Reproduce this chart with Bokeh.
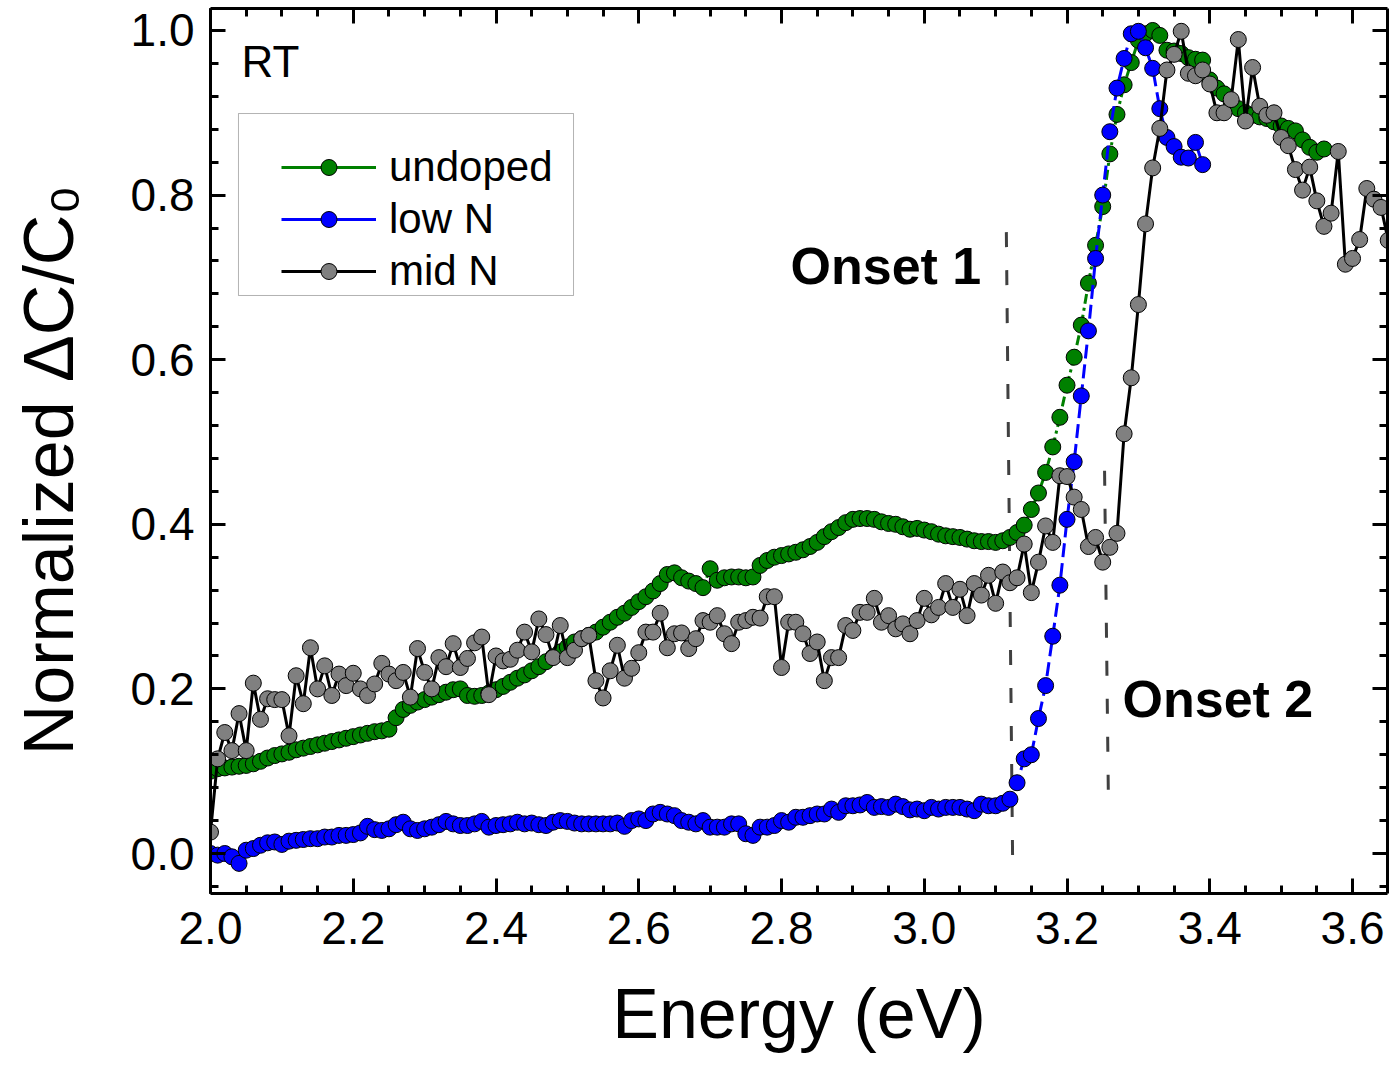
import numpy as np
from bokeh.plotting import figure
from bokeh.models import (LinearAxis, FixedTicker, PrintfTickFormatter, Label,
                          Legend, LegendItem, ColumnDataSource, BoxAnnotation,
                          CustomJSTickFormatter)
from bokeh.embed import file_html
from bokeh.resources import INLINE

# ---------------- data (normalized dC/C0 on a 0.01 eV energy grid from 2.00 eV) ----
E0 = 2.00
dE = 0.01

undoped = [
    0.100, 0.103, 0.104, 0.105, 0.106, 0.107, 0.109, 0.112, 0.116, 0.119,   # 2.00
    0.121, 0.123, 0.126, 0.128, 0.130, 0.132, 0.134, 0.136, 0.138, 0.140,   # 2.10
    0.142, 0.144, 0.146, 0.148, 0.149, 0.151, 0.165, 0.175, 0.180, 0.184,   # 2.20
    0.187, 0.190, 0.193, 0.196, 0.199, 0.200, 0.192, 0.191, 0.192, 0.195,   # 2.30
    0.199, 0.203, 0.208, 0.213, 0.217, 0.222, 0.227, 0.233, 0.239, 0.245,   # 2.40
    0.251, 0.257, 0.261, 0.265, 0.269, 0.275, 0.281, 0.287, 0.292, 0.299,   # 2.50
    0.306, 0.312, 0.319, 0.328, 0.339, 0.341, 0.335, 0.331, 0.328, 0.323,   # 2.60
    0.346, 0.332, 0.335, 0.336, 0.336, 0.335, 0.336, 0.350, 0.356, 0.360,   # 2.70
    0.362, 0.364, 0.366, 0.369, 0.373, 0.378, 0.385, 0.391, 0.396, 0.402,   # 2.80
    0.406, 0.407, 0.407, 0.406, 0.403, 0.401, 0.400, 0.397, 0.394, 0.395,   # 2.90
    0.393, 0.391, 0.388, 0.386, 0.385, 0.384, 0.382, 0.380, 0.379, 0.379,   # 3.00
    0.378, 0.380, 0.384, 0.390, 0.399, 0.418, 0.438, 0.463, 0.494, 0.530,   # 3.10
    0.569, 0.603, 0.642, 0.693, 0.739, 0.786, 0.850, 0.898, 0.934, 0.961,   # 3.20
    0.988, 0.996, 1.000, 0.994, 0.976, 0.975, 0.972, 0.967, 0.965, 0.964,   # 3.30
    0.940, 0.930, 0.923, 0.913, 0.905, 0.900, 0.897, 0.895, 0.893, 0.889,   # 3.40
    0.884, 0.881, 0.878, 0.867, 0.858, 0.852, 0.856,                        # 3.50
]

low_n = [
    0.000, -0.002, 0.000, -0.004, -0.012, 0.004, 0.006, 0.010, 0.013, 0.014,  # 2.00
    0.011, 0.015, 0.016, 0.017, 0.018, 0.018, 0.020, 0.020, 0.022, 0.022,     # 2.10
    0.023, 0.025, 0.033, 0.029, 0.028, 0.030, 0.035, 0.038, 0.030, 0.028,     # 2.20
    0.030, 0.032, 0.035, 0.039, 0.036, 0.034, 0.034, 0.036, 0.039, 0.032,     # 2.30
    0.034, 0.035, 0.036, 0.038, 0.036, 0.037, 0.035, 0.034, 0.038, 0.040,     # 2.40
    0.039, 0.037, 0.036, 0.036, 0.036, 0.036, 0.036, 0.037, 0.033, 0.040,     # 2.50
    0.042, 0.040, 0.048, 0.050, 0.048, 0.046, 0.040, 0.038, 0.036, 0.040,     # 2.60
    0.032, 0.032, 0.032, 0.036, 0.036, 0.024, 0.022, 0.032, 0.032, 0.034,     # 2.70
    0.040, 0.038, 0.044, 0.044, 0.046, 0.048, 0.048, 0.054, 0.050, 0.058,     # 2.80
    0.058, 0.059, 0.062, 0.056, 0.057, 0.056, 0.060, 0.057, 0.053, 0.054,     # 2.90
    0.052, 0.056, 0.054, 0.056, 0.056, 0.056, 0.054, 0.052, 0.060, 0.058,     # 3.00
    0.058, 0.061, 0.066, 0.086, 0.115, 0.120, 0.164, 0.204, 0.264, 0.326,     # 3.10
    0.406, 0.476, 0.556, 0.635, 0.723, 0.800, 0.877, 0.930, 0.966, 0.996,     # 3.20
    0.999, 0.979, 0.954, 0.905, 0.870, 0.859, 0.846, 0.845, 0.864, 0.837,     # 3.30
]

mid_n = [
    0.026, 0.115, 0.147, 0.125, 0.170, 0.125, 0.207, 0.163, 0.188, 0.187,   # 2.00
    0.187, 0.143, 0.216, 0.182, 0.250, 0.200, 0.228, 0.192, 0.218, 0.204,   # 2.10
    0.219, 0.200, 0.192, 0.206, 0.231, 0.218, 0.210, 0.220, 0.190, 0.249,   # 2.20
    0.220, 0.200, 0.238, 0.227, 0.255, 0.226, 0.237, 0.256, 0.263, 0.193,   # 2.30
    0.240, 0.234, 0.236, 0.247, 0.269, 0.245, 0.285, 0.266, 0.238, 0.277,   # 2.40
    0.238, 0.247, 0.261, 0.265, 0.210, 0.189, 0.222, 0.253, 0.213, 0.225,   # 2.50
    0.244, 0.269, 0.269, 0.292, 0.250, 0.267, 0.268, 0.249, 0.261, 0.283,   # 2.60
    0.281, 0.289, 0.267, 0.255, 0.281, 0.283, 0.287, 0.286, 0.312, 0.312,   # 2.70
    0.226, 0.281, 0.281, 0.267, 0.243, 0.257, 0.210, 0.238, 0.238, 0.277,   # 2.80
    0.271, 0.293, 0.293, 0.310, 0.281, 0.289, 0.273, 0.279, 0.267, 0.283,   # 2.90
    0.310, 0.290, 0.299, 0.328, 0.299, 0.321, 0.289, 0.328, 0.314, 0.338,   # 3.00
    0.304, 0.342, 0.329, 0.335, 0.376, 0.317, 0.354, 0.398, 0.378, 0.459,   # 3.10
    0.458, 0.433, 0.418, 0.373, 0.384, 0.354, 0.372, 0.389, 0.510, 0.578,   # 3.20
    0.667, 0.765, 0.833, 0.881, 0.952, 0.971, 0.999, 0.948, 0.945, 0.952,   # 3.30
    0.935, 0.900, 0.900, 0.916, 0.989, 0.890, 0.955, 0.908, 0.897, 0.900,   # 3.40
    0.870, 0.860, 0.831, 0.806, 0.834, 0.793, 0.762, 0.778, 0.853, 0.716,   # 3.50
    0.723, 0.746, 0.808, 0.795, 0.785, 0.745,                               # 3.60
]

series_names = ["undoped", "low N", "mid N"]
line_colors = ["#008000", "#0000FF", "#000000"]
fill_colors = ["#008000", "#0000FF", "#808080"]
line_dashes = ["10 4 3 4", "14 6", "solid"]

# onset guides: energy at top / bottom end, value at top / bottom end
onset_x_top = [3.115, 3.2526]
onset_x_bottom = [3.124, 3.258]
onset_y_top = [0.755, 0.465]
onset_y_bottom = [-0.027, 0.064]
onset_labels = ["Onset 1", "Onset 2"]
onset_label_x = [2.8126, 3.2778]
onset_label_y = [0.714, 0.188]

x_ticks = [2.0, 2.2, 2.4, 2.6, 2.8, 3.0, 3.2, 3.4, 3.6]
y_ticks = [0.0, 0.2, 0.4, 0.6, 0.8, 1.0]
x_minor = [round(2.0 + 0.05 * i, 2) for i in range(34)]
y_minor = [round(-0.04 + 0.04 * i, 2) for i in range(27)]


def energies(vals):
    return [round(E0 + dE * i, 2) for i in range(len(vals))]


FONT = "Liberation Sans"

p = figure(width=1389, height=1069,
           x_range=(2.0, 3.649), y_range=(-0.0486, 1.0267),
           output_backend="svg", toolbar_location=None,
           min_border_left=210, min_border_right=2,
           min_border_top=8, min_border_bottom=176,
           background_fill_color="white", border_fill_color="white")
p.xgrid.visible = False
p.ygrid.visible = False
p.outline_line_color = None

# onset guide lines (under the data)
p.segment(x0=onset_x_top, y0=onset_y_top, x1=onset_x_bottom, y1=onset_y_bottom,
          line_color="#404040", line_width=3, line_dash="15 23")

items = []
for name, vals, lc, fc, dash in zip(series_names, [undoped, low_n, mid_n],
                                    line_colors, fill_colors, line_dashes):
    src = ColumnDataSource(dict(x=energies(vals), y=vals))
    p.line("x", "y", source=src, line_color=lc, line_width=3, line_dash=dash)
    sr = p.scatter("x", "y", source=src, size=16, marker="circle",
                   fill_color=fc, line_color="black", line_width=1)
    # solid line used only for the legend sample (its single point is undefined)
    proxy = p.line(x=[E0], y=[np.nan], line_color=lc, line_width=3)
    items.append(LegendItem(label=name, renderers=[proxy, sr]))

# legend frame
p.add_layout(BoxAnnotation(left=2.0392, right=2.5086, bottom=0.678, top=0.8991,
                           fill_color="white", fill_alpha=1.0,
                           line_color="black", line_width=1))

legend = Legend(items=items, location=(71, 598),
                label_text_font=FONT, label_text_font_size="42px",
                label_text_color="black",
                glyph_width=95, glyph_height=40, label_height=46,
                spacing=4, padding=10, margin=0, label_standoff=13,
                border_line_color=None, background_fill_alpha=0.0)
p.add_layout(legend, "center")

blank = CustomJSTickFormatter(code="return ''")


def style_axis(ax, ticks, minors, labels=True):
    ax.ticker = FixedTicker(ticks=ticks, minor_ticks=minors)
    ax.formatter = PrintfTickFormatter(format="%.1f") if labels else blank
    ax.axis_line_width = 3
    ax.axis_line_color = "black"
    ax.major_tick_in = 15
    ax.major_tick_out = 0
    ax.minor_tick_in = 8
    ax.minor_tick_out = 0
    ax.major_tick_line_width = 3
    ax.minor_tick_line_width = 3
    ax.major_tick_line_color = "black"
    ax.minor_tick_line_color = "black"
    ax.major_label_text_font = FONT
    ax.major_label_text_color = "black"
    ax.major_label_text_font_size = "46px"
    if not labels:
        ax.major_label_standoff = 0


style_axis(p.xaxis[0], x_ticks, x_minor)
style_axis(p.yaxis[0], y_ticks, y_minor)
p.xaxis[0].major_label_standoff = 18
p.yaxis[0].major_label_standoff = 16

p.xaxis[0].axis_label = "Energy (eV)"
p.xaxis[0].axis_label_standoff = 28
p.yaxis[0].axis_label = "Normalized \u0394C/C\u2080\u00a0\u00a0"
p.yaxis[0].axis_label_standoff = 40
for ax in (p.xaxis[0], p.yaxis[0]):
    ax.axis_label_text_font = FONT
    ax.axis_label_text_font_size = "70px"
    ax.axis_label_text_font_style = "normal"
    ax.axis_label_text_color = "black"

top_axis = LinearAxis()
right_axis = LinearAxis()
style_axis(top_axis, x_ticks, x_minor, labels=False)
style_axis(right_axis, y_ticks, y_minor, labels=False)
p.add_layout(top_axis, "above")
p.add_layout(right_axis, "right")

for txt, lx, ly in zip(onset_labels, onset_label_x, onset_label_y):
    p.add_layout(Label(x=lx, y=ly, text=txt, text_font=FONT, text_font_size="52px",
                       text_font_style="bold", text_color="black",
                       text_baseline="alphabetic"))

p.add_layout(Label(x=2.0434, y=0.962, text="RT", text_font=FONT,
                   text_font_size="44px", text_color="black",
                   text_baseline="alphabetic"))

open("out.html", "w").write(file_html(p, INLINE))
